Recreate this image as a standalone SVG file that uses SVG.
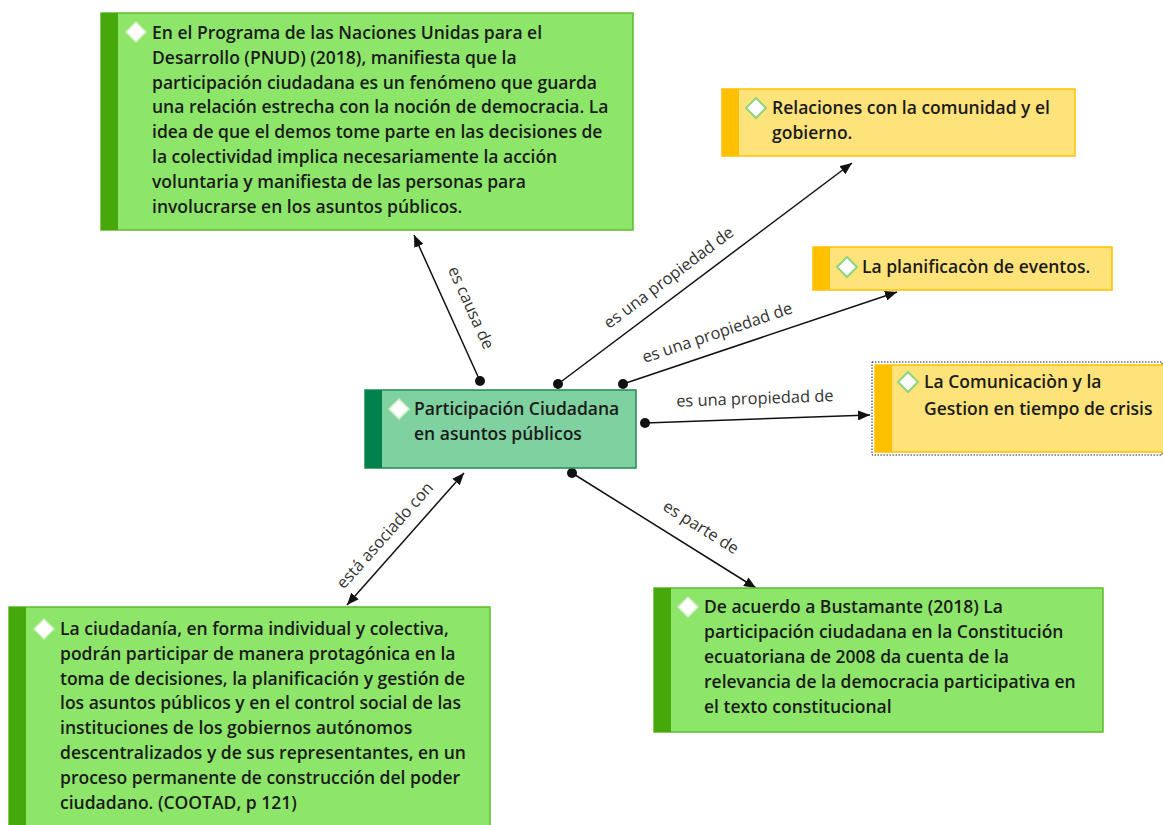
<svg xmlns="http://www.w3.org/2000/svg" width="1163" height="825" viewBox="0 0 1163 825">
<defs>
<style>
.t{font-family:"Open Sans","Noto Sans","Liberation Sans",sans-serif;font-size:17.5px;font-weight:600;fill:#1b1b1b}
.lbl{font-family:"Open Sans","Noto Sans","Liberation Sans",sans-serif;font-size:16.4px;fill:#333}
.g{fill:#8de66a;stroke:#5dbb2e;stroke-width:1.5}
.gb{fill:#46a80a}
.y{fill:#fee37a;stroke:#ffc000;stroke-width:1.5}
.yb{fill:#ffc000}
.c{fill:#80d1a0;stroke:#1f8a52;stroke-width:1.5}
.cb{fill:#00824f}
.dw{fill:#fff;stroke:#cfeec2;stroke-width:1.5}
.dy{fill:#fff;stroke:#8fd47a;stroke-width:2}
.ln{stroke:#111;stroke-width:1.5;fill:none}
</style>
<marker id="ar" viewBox="0 0 12 10" refX="12" refY="5" markerWidth="12" markerHeight="10" markerUnits="userSpaceOnUse" orient="auto-start-reverse"><path d="M0,0 L12,5 L0,10 Z" fill="#111"/></marker>
<marker id="dot" viewBox="0 0 10 10" refX="5" refY="5" markerWidth="10" markerHeight="10" markerUnits="userSpaceOnUse"><circle cx="5" cy="5" r="5" fill="#111"/></marker>
</defs>
<rect width="1163" height="825" fill="#fff"/>

<g id="connectors">
<line class="ln" x1="480" y1="381" x2="414" y2="235" marker-start="url(#dot)" marker-end="url(#ar)"/>
<text class="lbl" transform="translate(466,310) rotate(65.7)" text-anchor="middle">es causa de</text>
<line class="ln" x1="558" y1="384" x2="852" y2="163" marker-start="url(#dot)" marker-end="url(#ar)"/>
<text class="lbl" transform="translate(672,282) rotate(-36.9)" text-anchor="middle">es una propiedad de</text>
<line class="ln" x1="623" y1="384" x2="897" y2="292" marker-start="url(#dot)" marker-end="url(#ar)"/>
<text class="lbl" transform="translate(719,338) rotate(-18.6)" text-anchor="middle">es una propiedad de</text>
<line class="ln" x1="645" y1="423" x2="870" y2="415" marker-start="url(#dot)" marker-end="url(#ar)"/>
<text class="lbl" transform="translate(755,404) rotate(-2)" text-anchor="middle">es una propiedad de</text>
<line class="ln" x1="347" y1="605" x2="464" y2="473" marker-start="url(#ar)" marker-end="url(#ar)"/>
<text class="lbl" transform="translate(389,539) rotate(-48.4)" text-anchor="middle">está asociado con</text>
<line class="ln" x1="572" y1="473" x2="756" y2="588" marker-start="url(#dot)" marker-end="url(#ar)"/>
<text class="lbl" transform="translate(698,532) rotate(32)" text-anchor="middle">es parte de</text>
</g>

<g id="node-pnud">
<rect class="g" x="101" y="13" width="532" height="217"/>
<rect class="gb" x="101" y="13" width="17" height="217"/>
<path class="dw" d="M136,22 L146,32 L136,42 L126,32 Z"/>
<text class="t" x="152" y="39">En el Programa de las Naciones Unidas para el</text>
<text class="t" x="152" y="64">Desarrollo (PNUD) (2018), manifiesta que la</text>
<text class="t" x="152" y="89">participación ciudadana es un fenómeno que guarda</text>
<text class="t" x="152" y="113">una relación estrecha con la noción de democracia. La</text>
<text class="t" x="152" y="138">idea de que el demos tome parte en las decisiones de</text>
<text class="t" x="152" y="163">la colectividad implica necesariamente la acción</text>
<text class="t" x="152" y="188">voluntaria y manifiesta de las personas para</text>
<text class="t" x="152" y="213">involucrarse en los asuntos públicos.</text>
</g>

<g id="node-relaciones">
<rect class="y" x="722" y="89" width="353" height="67"/>
<rect class="yb" x="722" y="89" width="17" height="67"/>
<path class="dy" d="M756,98 L766,108 L756,118 L746,108 Z"/>
<text class="t" x="772" y="114">Relaciones con la comunidad y el</text>
<text class="t" x="772" y="139">gobierno.</text>
</g>

<g id="node-planificacion">
<rect class="y" x="813" y="247" width="299" height="43"/>
<rect class="yb" x="813" y="247" width="17" height="43"/>
<path class="dy" d="M847,257 L857,267 L847,277 L837,267 Z"/>
<text class="t" x="862" y="273">La planificacòn de eventos.</text>
</g>

<g id="node-comunicacion">
<rect x="872" y="362" width="290" height="93" fill="none" stroke="#222" stroke-width="1" stroke-dasharray="1.5,1.5"/>
<rect class="y" x="875" y="365" width="290" height="87"/>
<rect class="yb" x="875" y="365" width="17" height="87"/>
<path class="dy" d="M908,372 L918,382 L908,392 L898,382 Z"/>
<text class="t" x="924" y="388">La Comunicaciòn y la</text>
<text class="t" x="924" y="415">Gestion en tiempo de crisis</text>
</g>

<g id="node-participacion">
<rect class="c" x="365" y="390" width="271" height="78"/>
<rect class="cb" x="365" y="390" width="17" height="78"/>
<path class="dw" d="M399,399 L409,409 L399,419 L389,409 Z"/>
<text class="t" x="414" y="415">Participación Ciudadana</text>
<text class="t" x="414" y="440">en asuntos públicos</text>
</g>

<g id="node-cootad">
<rect class="g" x="9" y="607" width="481" height="225"/>
<rect class="gb" x="9" y="607" width="17" height="225"/>
<path class="dw" d="M44,619 L54,629 L44,639 L34,629 Z"/>
<text class="t" x="60" y="635">La ciudadanía, en forma individual y colectiva,</text>
<text class="t" x="60" y="660">podrán participar de manera protagónica en la</text>
<text class="t" x="60" y="685">toma de decisiones, la planificación y gestión de</text>
<text class="t" x="60" y="709">los asuntos públicos y en el control social de las</text>
<text class="t" x="60" y="734">instituciones de los gobiernos autónomos</text>
<text class="t" x="60" y="759">descentralizados y de sus representantes, en un</text>
<text class="t" x="60" y="784">proceso permanente de construcción del poder</text>
<text class="t" x="60" y="809">ciudadano. (COOTAD, p 121)</text>
</g>

<g id="node-bustamante">
<rect class="g" x="654" y="588" width="449" height="144"/>
<rect class="gb" x="654" y="588" width="17" height="144"/>
<path class="dw" d="M688,597 L698,607 L688,617 L678,607 Z"/>
<text class="t" x="704" y="613">De acuerdo a Bustamante (2018) La</text>
<text class="t" x="704" y="638">participación ciudadana en la Constitución</text>
<text class="t" x="704" y="663">ecuatoriana de 2008 da cuenta de la</text>
<text class="t" x="704" y="688">relevancia de la democracia participativa en</text>
<text class="t" x="704" y="713">el texto constitucional</text>
</g>
</svg>
